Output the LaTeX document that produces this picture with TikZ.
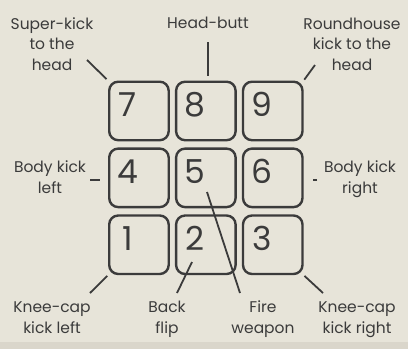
\documentclass[tikz,border=0pt]{standalone}
\usepackage{fontspec}
\setmainfont{Poppins}
\usetikzlibrary{positioning}

\definecolor{paper}{HTML}{E7E4D9}
\definecolor{scanedge}{HTML}{DAD6CB}
\definecolor{ink}{HTML}{3B3B3B}

\begin{document}
\begin{tikzpicture}[
  x=1pt, y=-1pt,
  font=\fontsize{15.5}{20.5}\selectfont, text=ink,
  key/.style={draw=ink, line width=2.4pt, rounded corners=9pt,
              minimum width=59.5pt, minimum height=58.5pt, inner sep=0pt},
  digit/.style={font=\fontsize{33}{33}\selectfont, inner sep=0pt},
  lbl/.style={align=center, inner sep=0pt, anchor=base},
  leader/.style={draw=ink, line width=1.8pt}
]
\fill[paper] (0,0) rectangle (408,349);
\fill[scanedge] (0,342) rectangle (408,349);
\useasboundingbox (0,0) rectangle (408,349);

% keypad
\node[key, anchor=north west] (k7) at (108,80.5) {};
\node[key, right=5pt of k7] (k8) {};
\node[key, right=5pt of k8] (k9) {};
\node[key, below=6pt of k7] (k4) {};
\node[key, right=5pt of k4] (k5) {};
\node[key, right=5pt of k5] (k6) {};
\node[key, below=6pt of k4] (k1) {};
\node[key, right=5pt of k1] (k2) {};
\node[key, right=5pt of k2] (k3) {};
\foreach \n in {1,...,9}
  \node[digit] (d\n) at ([shift={(20,24)}]k\n.north west) {\n};

% labels (placed by the baseline of their last line)
\node[lbl] (sk)  at (52,70)  {Super-kick\\to the\\head};
\node[lbl] (hb)  at (208,28) {Head-butt};
\node[lbl] (rh)  at (352,70) {Roundhouse\\kick to the\\head};
\node[lbl] (bkl) at (50,193) {Body kick\\left};
\node[lbl] (bkr) at (360,193) {Body kick\\right};
\node[lbl] (kcl) at (52,333) {Knee-cap\\kick left};
\node[lbl] (bf)  at (167,333) {Back\\flip};
\node[lbl] (fw)  at (263,333) {Fire\\weapon};
\node[lbl] (kcr) at (357,333) {Knee-cap\\kick right};

% leaders
\coordinate (sk-end)  at (87,60);
\coordinate (hb-end)  at (208,42);
\coordinate (rh-end)  at (315,65);
\coordinate (bkl-end) at (90,180);
\coordinate (bkr-end) at (317,180);
\coordinate (kcl-end) at (90,293);
\coordinate (bf-end)  at (177,293);
\coordinate (bf-tip)  at (192,262);
\coordinate (fw-end)  at (240,293);
\coordinate (fw-tip)  at (207,192);
\coordinate (kcr-end) at (323,293);
\draw[leader, shorten >=2pt] (sk-end) -- (k7.north west);
\draw[leader, shorten >=5pt] (hb-end) -- (hb-end |- k8.north);
\draw[leader, shorten >=1pt] (rh-end) -- (k9.north east);
\draw[leader, shorten >=8pt] (bkl-end) -- (bkl-end -| k4.west);
\draw[leader, shorten >=9pt] (bkr-end) -- (bkr-end -| k6.east);
\draw[leader, shorten >=1pt] (kcl-end) -- (k1.south west);
\draw[leader] (bf-end) -- (bf-tip);
\draw[leader] (fw-end) -- (fw-tip);
\draw[leader, shorten >=1pt] (kcr-end) -- (k3.south east);
\end{tikzpicture}
\end{document}
